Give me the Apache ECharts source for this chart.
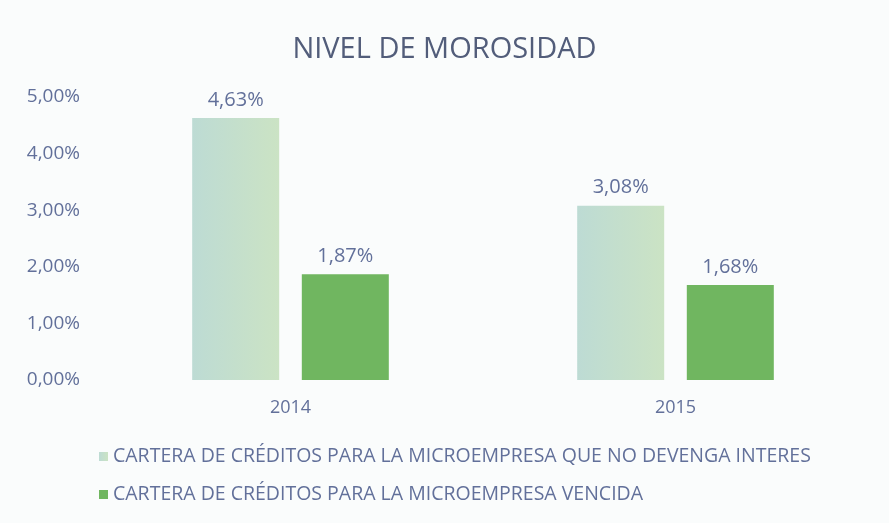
<!DOCTYPE html>
<html>
<head>
<meta charset="utf-8">
<script src="https://cdn.jsdelivr.net/npm/echarts@6/dist/echarts.min.js"></script>
<style>
  html, body { margin: 0; padding: 0; background: #fafcfc; }
  #chart { width: 889px; height: 523px; }
</style>
</head>
<body>
<div id="chart"></div>
<script>
// datos
var years = ['2014', '2015'];
var noDevenga = [4.63, 3.08];
var vencida = [1.87, 1.68];
var seriesNames = [
  'CARTERA DE CRÉDITOS PARA LA MICROEMPRESA QUE NO DEVENGA INTERES',
  'CARTERA DE CRÉDITOS PARA LA MICROEMPRESA VENCIDA'
];

var txt = '#62709a';
var font = '"Open Sans", sans-serif';

function pct(v) {
  return v.toFixed(2).replace('.', ',') + '%';
}

var chart = echarts.init(document.getElementById('chart'));
var option = {
  backgroundColor: '#fafcfc',
  textStyle: { fontFamily: font },
  title: {
    text: 'NIVEL DE MOROSIDAD',
    left: 'center',
    top: 30,
    textStyle: { color: '#525d7a', fontSize: 29, fontWeight: 'normal', fontFamily: font }
  },
  legend: {
    orient: 'vertical',
    left: 94,
    top: 441,
    itemGap: 17,
    itemWidth: 9,
    itemHeight: 9,
    icon: 'rect',
    textStyle: { color: txt, fontSize: 19.5, lineHeight: 21, fontFamily: font }
  },
  grid: { left: 98, right: 21, top: 97, bottom: 143 },
  xAxis: {
    type: 'category',
    data: years,
    axisLine: { show: false },
    axisTick: { show: false },
    axisLabel: { color: txt, fontSize: 18, margin: 19, fontFamily: font }
  },
  yAxis: {
    type: 'value',
    min: 0,
    max: 5,
    interval: 1,
    splitLine: { show: false },
    axisLabel: { color: txt, fontSize: 19, margin: 18, formatter: pct, fontFamily: font }
  },
  series: [
    {
      name: seriesNames[0],
      type: 'bar',
      data: noDevenga,
      barWidth: 87,
      barGap: '26%',
      itemStyle: {
        color: new echarts.graphic.LinearGradient(0, 0, 1, 0, [
          { offset: 0, color: '#bddbd4' },
          { offset: 1, color: '#cbe3c4' }
        ])
      },
      label: {
        show: true, position: 'top', distance: 8,
        color: txt, fontSize: 20, fontFamily: font,
        formatter: function (p) { return pct(p.value); }
      }
    },
    {
      name: seriesNames[1],
      type: 'bar',
      data: vencida,
      barWidth: 87,
      itemStyle: { color: '#70b660' },
      label: {
        show: true, position: 'top', distance: 8,
        color: txt, fontSize: 20, fontFamily: font,
        formatter: function (p) { return pct(p.value); }
      }
    }
  ]
};
chart.setOption(option);
</script>
</body>
</html>
